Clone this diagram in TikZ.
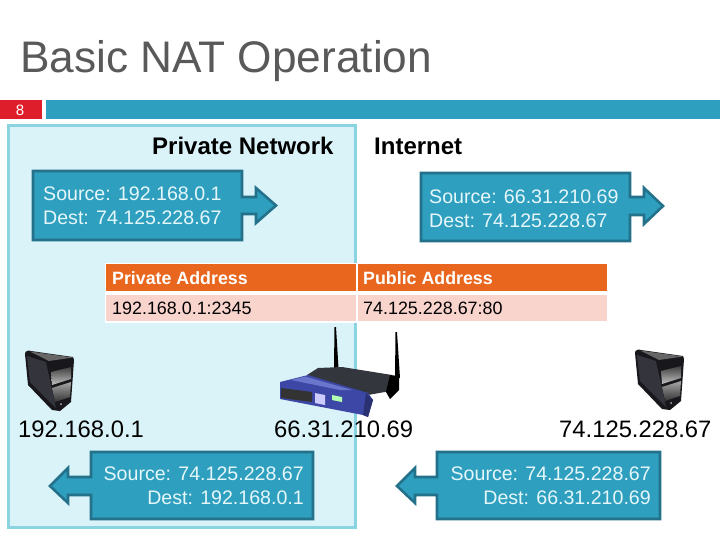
\documentclass[tikz,border=0pt]{standalone}
\usepackage{fontspec}
\setmainfont{Liberation Sans}
\definecolor{teal1}{HTML}{2E9FBE}
\definecolor{teal2}{HTML}{23718A}
\definecolor{paneF}{HTML}{DAF3F9}
\definecolor{paneB}{HTML}{8AD4E2}
\definecolor{redb}{HTML}{DE1F2B}
\definecolor{titleg}{HTML}{595959}
\definecolor{orng}{HTML}{E8661E}
\definecolor{rowp}{HTML}{F8D4CD}
\definecolor{lighttxt}{HTML}{E6F7FB}
\definecolor{rblue}{HTML}{3D48A6}
\definecolor{rblue2}{HTML}{6A76CC}
\definecolor{rdark}{HTML}{33373D}
\definecolor{sdark}{HTML}{17171C}
\definecolor{smid}{HTML}{34343C}
\tikzset{
  pane/.style={draw=paneB,fill=paneF,line width=3pt},
  callout/.style={draw=teal2,fill=teal1,line width=2.6pt,line join=miter},
  boxtext/.style={text=lighttxt,font=\fontsize{19.6}{24}\selectfont,inner sep=0pt},
  hdr/.style={text=white,font=\bfseries\fontsize{17.8}{19}\selectfont,anchor=west,inner sep=0pt},
  cell/.style={text=black,font=\fontsize{17.9}{19}\selectfont,anchor=west,inner sep=0pt},
  label/.style={text=black,font=\fontsize{23.8}{25}\selectfont,inner sep=0pt},
  head/.style={text=black,font=\bfseries\fontsize{24}{25}\selectfont,inner sep=0pt},
  pics/servericon/.style={code={
    \fill[sdark] (25,354) .. controls (25,351) and (28,350) .. (31,351) -- (73,357) -- (74,360) -- (71,402) -- (60,411) -- (52,410) -- (28,385) -- cycle;
    \fill[black!60] (30,351.5) -- (73,357.5) -- (49,361) -- cycle;
    \fill[smid] (27,356) -- (46,362) -- (56,408) -- (30,382) -- cycle;
    \fill[sdark] (46,362) -- (72,359) -- (70,401) -- (58,410) -- cycle;
    \shade[top color=black!75,bottom color=white!75!black] (51,372) -- (71,367) -- (71,379) -- (52,385) -- cycle;
    \shade[top color=white!65!black,bottom color=black!80] (52,388) -- (71,382) -- (70,397) -- (55,402) -- cycle;
    \fill[white!70!black] (61,404) circle (1pt);
  }}
}
\begin{document}
\begin{tikzpicture}[x=1pt,y=-1pt]
\useasboundingbox (0,0) rectangle (720,540);
\fill[white] (0,0) rectangle (720,540);
% title and banner
\node[anchor=base west,inner sep=0pt,text=titleg,font=\fontsize{44.2}{48}\selectfont] (title) at (20,73) {Basic NAT Operation};
\fill[redb] (0,100) rectangle (42,119);
\fill[teal1] (46,100) rectangle (720,119);
\node[text=white,font=\fontsize{15}{16}\selectfont,inner sep=0pt] (num) at (20,110) {8};
% private network pane
\draw[pane] (8,126) rectangle (355,527);
\node[head,anchor=base west] (priv) at (152,155) {Private Network};
\node[head,anchor=base west] (inet) at (374,155) {Internet};
% callouts
\draw[callout] (33,171) -- (242,171) -- (242,197) -- (256,197) -- (256,188) -- (276,205.5) -- (256,223) -- (256,214) -- (242,214) -- (242,240) -- (33,240) -- cycle;
\node[boxtext,anchor=base west,align=left] (s1) at (43,201) {Source: 192.168.0.1};
\node[boxtext,anchor=base west,align=left] (d1) at (43,225) {Dest: 74.125.228.67};
\draw[callout] (421,173) -- (630,173) -- (630,197) -- (644,197) -- (644,188) -- (663,206) -- (644,224) -- (644,215) -- (630,215) -- (630,241) -- (421,241) -- cycle;
\node[boxtext,anchor=base west] (s2) at (429,204) {Source: 66.31.210.69};
\node[boxtext,anchor=base west] (d2) at (429,227) {Dest: 74.125.228.67};
\draw[callout] (313,452) -- (91,452) -- (91,477) -- (68,477) -- (68,468) -- (50,486) -- (68,503) -- (68,495) -- (91,495) -- (91,519) -- (313,519) -- cycle;
\node[boxtext,anchor=base east] (s3) at (304,480) {Source: 74.125.228.67};
\node[boxtext,anchor=base east] (d3) at (304,504) {Dest: 192.168.0.1};
\draw[callout] (660,452) -- (437,452) -- (437,477) -- (415,477) -- (415,468) -- (397,486) -- (415,503) -- (415,495) -- (437,495) -- (437,519) -- (660,519) -- cycle;
\node[boxtext,anchor=base east] (s4) at (651,480) {Source: 74.125.228.67};
\node[boxtext,anchor=base east] (d4) at (651,504) {Dest: 66.31.210.69};
% table
\fill[white] (104.5,262.5) rectangle (608.5,322.5);
\fill[orng] (106,264) rectangle (355.5,291);
\fill[orng] (357.5,264) rectangle (607,291);
\fill[rowp] (106,295) rectangle (355.5,321);
\fill[rowp] (357.5,295) rectangle (607,321);
\node[hdr] (h1) at (112,278.5) {Private Address};
\node[hdr] (h2) at (363,278.5) {Public Address};
\node[cell] (c1) at (112,308) {192.168.0.1:2345};
\node[cell] (c2) at (363,308) {74.125.228.67:80};
% servers
\pic at (0,0) {servericon};
\pic at (610,-1) {servericon};
% router
\fill[black] (334.5,327) -- (336,327) -- (338.5,368) -- (334,368) -- cycle;
\fill[black] (395.5,332) -- (397,332) -- (400,378) -- (395,378) -- cycle;
\fill[rdark] (307,375) -- (318,368) -- (342,367) -- (392,375) -- (396,390) -- (368,395) -- cycle;
\fill[black] (390,375) -- (399,376) -- (399,390) -- (390,399) -- (386,392) -- cycle;
\fill[rblue] (280,382) -- (308,375) -- (368,393) -- (373,400) -- (368,417) -- (363,415) -- (280,399) -- cycle;
\fill[rblue2] (291,380) -- (305,376.5) -- (352,390) -- (340,390) -- cycle;
\fill[black!80] (281,388) -- (312,392) -- (312,402) -- (281,398) -- cycle;
\fill[white!80!blue] (315,393) -- (325,395) -- (325,405) -- (315,403) -- cycle;
\fill[white!70!green] (332,395) -- (342,397) -- (342,402) -- (332,400) -- cycle;
\fill[rblue!70!black] (366,393) -- (373,400) -- (368,417) -- (363,415) -- cycle;
% address labels
\node[label,anchor=base west] (a1) at (18,437) {192.168.0.1};
\node[label,anchor=base west] (a2) at (274,437) {66.31.210.69};
\node[label,anchor=base west] (a3) at (559,437) {74.125.228.67};
\end{tikzpicture}
\end{document}
